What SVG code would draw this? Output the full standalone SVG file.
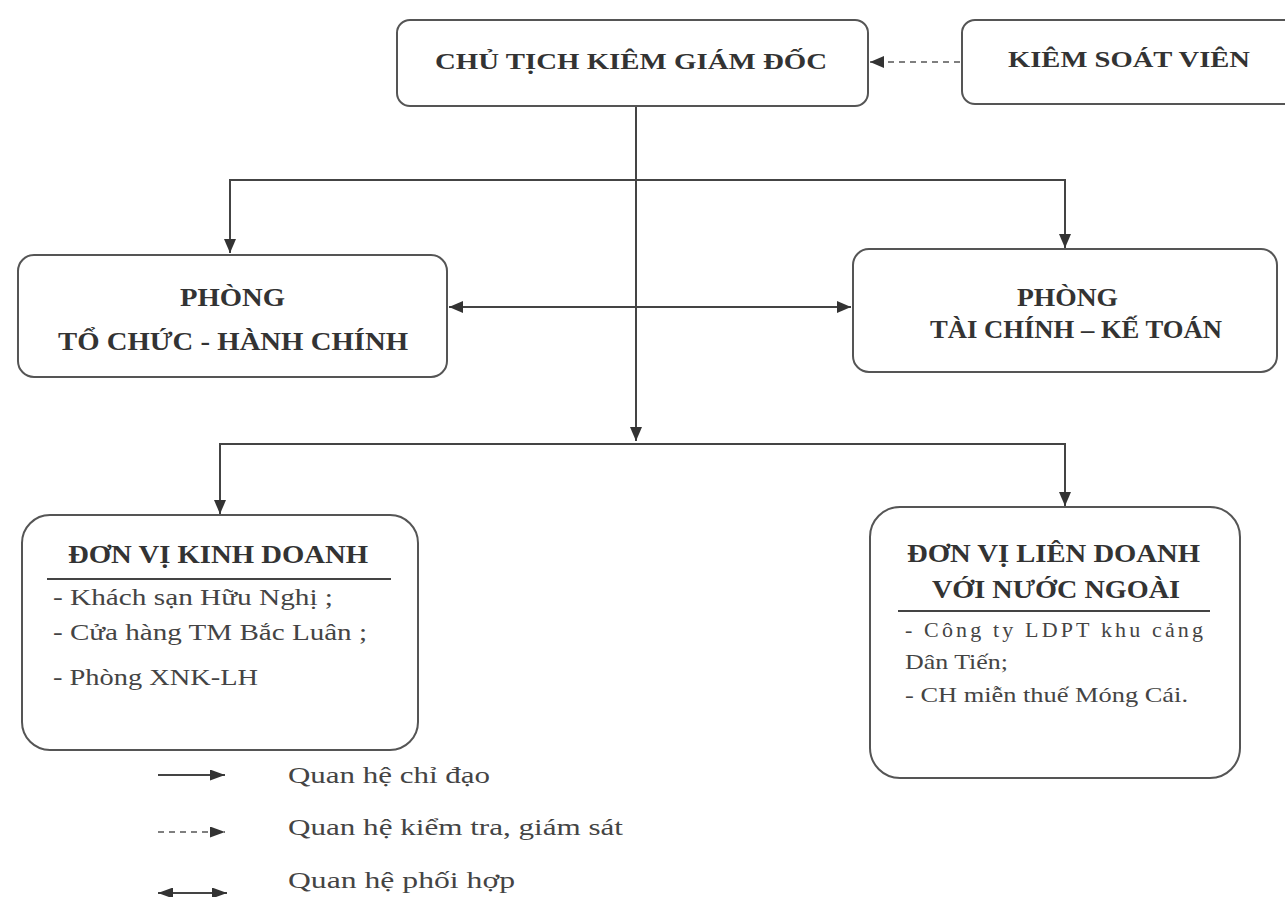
<svg xmlns="http://www.w3.org/2000/svg" width="1285" height="897" viewBox="0 0 1285 897">
<style>
.box{fill:#fff;stroke:#555;stroke-width:2}
.ln{fill:none;stroke:#444;stroke-width:2}
.dash{fill:none;stroke:#555;stroke-width:1.6;stroke-dasharray:6 5}
.h{font-family:"Liberation Serif","DejaVu Serif",serif;font-weight:bold;fill:#333}
.t{font-family:"Liberation Serif","DejaVu Serif",serif;fill:#444}
</style>
<defs>
<marker id="ah" viewBox="0 0 10 10" refX="10" refY="5" markerWidth="15" markerHeight="11" markerUnits="userSpaceOnUse" orient="auto-start-reverse" preserveAspectRatio="none">
<path d="M0,0 L10,5 L0,10 z" fill="#333"/>
</marker>
<marker id="ahs" viewBox="0 0 10 10" refX="10" refY="5" markerWidth="14" markerHeight="12" markerUnits="userSpaceOnUse" orient="auto-start-reverse" preserveAspectRatio="none">
<path d="M0,0 L10,5 L0,10 z" fill="#333"/>
</marker>
</defs>
<rect width="1285" height="897" fill="#fff"/>

<g id="connectors">
<line class="ln" x1="636" y1="106" x2="636" y2="441" marker-end="url(#ahs)"/>
<polyline class="ln" points="230,253 230,180 1065,180 1065,248" marker-start="url(#ahs)" marker-end="url(#ahs)"/>
<line class="ln" x1="449" y1="307" x2="851" y2="307" marker-start="url(#ahs)" marker-end="url(#ahs)"/>
<polyline class="ln" points="220,514 220,444 1065,444 1065,506" marker-start="url(#ahs)" marker-end="url(#ahs)"/>
<line class="dash" x1="960" y1="62" x2="870" y2="62" marker-end="url(#ahs)"/>
</g>

<g id="ceo">
<rect class="box" x="397" y="20" width="471" height="86" rx="13"/>
<text class="h" x="435" y="69" font-size="23" textLength="392" lengthAdjust="spacingAndGlyphs">CHỦ TỊCH KIÊM GIÁM ĐỐC</text>
</g>

<g id="kiem-soat-vien">
<rect class="box" x="962" y="20" width="340" height="84" rx="13"/>
<text class="h" x="1008" y="67" font-size="23" textLength="242" lengthAdjust="spacingAndGlyphs">KIÊM SOÁT VIÊN</text>
</g>

<g id="phong-tchc">
<rect class="box" x="18" y="255" width="429" height="122" rx="16"/>
<text class="h" x="180" y="306" font-size="25" textLength="105" lengthAdjust="spacingAndGlyphs">PHÒNG</text>
<text class="h" x="58" y="350" font-size="25" textLength="350" lengthAdjust="spacingAndGlyphs">TỔ CHỨC - HÀNH CHÍNH</text>
</g>

<g id="phong-tckt">
<rect class="box" x="853" y="249" width="424" height="123" rx="16"/>
<text class="h" x="1017" y="306" font-size="25" textLength="101" lengthAdjust="spacingAndGlyphs">PHÒNG</text>
<text class="h" x="930" y="338" font-size="25" textLength="292" lengthAdjust="spacingAndGlyphs">TÀI CHÍNH – KẾ TOÁN</text>
</g>

<g id="don-vi-kinh-doanh">
<rect class="box" x="22" y="515" width="396" height="235" rx="28"/>
<text class="h" x="68" y="563" font-size="26" textLength="300" lengthAdjust="spacingAndGlyphs">ĐƠN VỊ KINH DOANH</text>
<line x1="47" y1="579" x2="391" y2="579" stroke="#444" stroke-width="2"/>
<text class="t" x="53" y="605" font-size="23" textLength="280" lengthAdjust="spacingAndGlyphs">- Khách sạn Hữu Nghị ;</text>
<text class="t" x="53" y="640" font-size="23" textLength="314" lengthAdjust="spacingAndGlyphs">- Cửa hàng TM Bắc Luân ;</text>
<text class="t" x="53" y="685" font-size="23" textLength="205" lengthAdjust="spacingAndGlyphs">- Phòng XNK-LH</text>
</g>

<g id="don-vi-lien-doanh">
<rect class="box" x="870" y="507" width="370" height="271" rx="30"/>
<text class="h" x="907" y="562" font-size="26" textLength="293" lengthAdjust="spacingAndGlyphs">ĐƠN VỊ LIÊN DOANH</text>
<text class="h" x="932" y="598" font-size="26" textLength="248" lengthAdjust="spacingAndGlyphs">VỚI NƯỚC NGOÀI</text>
<line x1="898" y1="611" x2="1210" y2="611" stroke="#444" stroke-width="2"/>
<text class="t" x="905" y="637" font-size="22" textLength="298" lengthAdjust="spacing">- Công ty LDPT khu cảng</text>
<text class="t" x="905" y="669" font-size="22" textLength="103" lengthAdjust="spacingAndGlyphs">Dân Tiến;</text>
<text class="t" x="905" y="702" font-size="22" textLength="283" lengthAdjust="spacingAndGlyphs">- CH miễn thuế Móng Cái.</text>
</g>

<g id="legend">
<line class="ln" x1="158" y1="775" x2="225" y2="775" marker-end="url(#ah)"/>
<text class="t" x="288" y="783" font-size="24" textLength="202" lengthAdjust="spacingAndGlyphs">Quan hệ chỉ đạo</text>
<line class="dash" x1="158" y1="832" x2="225" y2="832" marker-end="url(#ah)"/>
<text class="t" x="288" y="835" font-size="24" textLength="335" lengthAdjust="spacingAndGlyphs">Quan hệ kiểm tra, giám sát</text>
<line class="ln" x1="158" y1="893" x2="227" y2="893" marker-start="url(#ah)" marker-end="url(#ah)"/>
<text class="t" x="288" y="888" font-size="24" textLength="227" lengthAdjust="spacingAndGlyphs">Quan hệ phối hợp</text>
</g>
</svg>
